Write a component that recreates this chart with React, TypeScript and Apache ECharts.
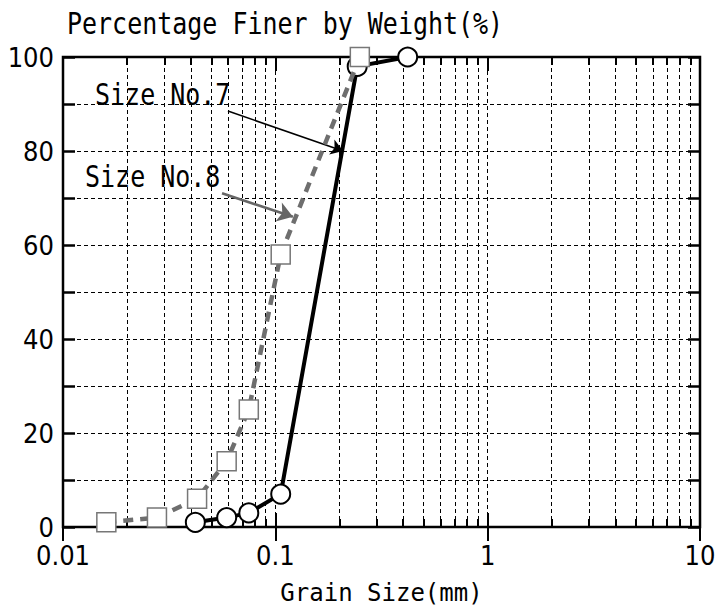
import React, { useEffect, useRef } from "react";
import * as echarts from "echarts";

// ---- data ----
const grainSize7 = [0.042, 0.059, 0.075, 0.106, 0.243, 0.42];
const finer7 = [1, 2, 3, 7, 98, 100];
const grainSize8 = [0.016, 0.0277, 0.0428, 0.059, 0.075, 0.106, 0.25];
const finer8 = [1, 2, 6, 14, 25, 58, 100];

const xTickLabels = ["0.01", "0.1", "1", "10"];
const yTickLabels = [0, 20, 40, 60, 80, 100];
const minorGrid = [
  0.02, 0.03, 0.04, 0.05, 0.06, 0.07, 0.08, 0.09,
  0.2, 0.3, 0.4, 0.5, 0.6, 0.7, 0.8, 0.9,
  2, 3, 4, 5, 6, 7, 8, 9,
];
const majorInner = [0.1, 1];

const arrow7 = [[0.0598, 88.5], [0.2085, 80]];
const arrow8 = [[0.0561, 71], [0.121, 66]];

const seriesNames = ["Size No.7", "Size No.8"];
const titleText = "Percentage Finer by Weight(%)";
const xName = "Grain Size(mm)";

const MONO = "'DejaVu Sans Mono', 'Liberation Mono', monospace";
const NARROW = "'DejaVu Sans Condensed', 'Liberation Sans Narrow', sans-serif";

export default function App() {
  const ref = useRef<HTMLDivElement>(null);
  useEffect(() => {
    if (!ref.current) return;
    const chart = echarts.init(ref.current, undefined, { renderer: "svg" });

    const dash = { type: [4, 3] as any, color: "#000", width: 1 };
    const minorTickLen = 1.7; // % units (~8 px)
    const majorTickLen = 3; // % units (~14 px)

    const tickSegs: any[] = [];
    minorGrid.forEach((v) => {
      tickSegs.push([{ coord: [v, 0] }, { coord: [v, minorTickLen] }]);
      tickSegs.push([{ coord: [v, 100] }, { coord: [v, 100 - minorTickLen] }]);
    });
    majorInner.forEach((v) => {
      tickSegs.push([{ coord: [v, 0] }, { coord: [v, majorTickLen] }]);
      tickSegs.push([{ coord: [v, 100] }, { coord: [v, 100 - majorTickLen] }]);
    });

    const xAxisCommon = {
      type: "log",
      logBase: 10,
      min: 0.01,
      max: 10,
      axisLine: { show: false },
      axisTick: { show: true, inside: true, length: 14, lineStyle: { color: "#000", width: 2 } },
    };
    const yAxisCommon = {
      type: "value",
      min: 0,
      max: 100,
      interval: 10,
      axisLine: { show: false },
      axisTick: { show: true, inside: true, length: 12, lineStyle: { color: "#000", width: 2.5 } },
    };

    chart.setOption({
      animation: false,
      backgroundColor: "#fff",
      grid: {
        left: 63,
        right: 19,
        top: 57,
        bottom: 82,
        show: true,
        borderColor: "#000",
        borderWidth: 2.5,
        backgroundColor: "transparent",
      },
      xAxis: [
        {
          ...xAxisCommon,
          position: "bottom",
          name: xName,
          nameLocation: "middle",
          nameGap: 54,
          nameTextStyle: { fontFamily: MONO, fontSize: 24, color: "#000" },
          axisLabel: {
            show: true,
            margin: 15,
            color: "#000",
            fontFamily: NARROW,
            fontSize: 27,
            formatter: (v: number) => {
              const i = Math.round(Math.log10(v) + 2);
              return xTickLabels[i] ?? "";
            },
          },
          splitLine: { show: true, lineStyle: dash },
        },
        {
          ...xAxisCommon,
          position: "top",
          axisLabel: { show: false },
          splitLine: { show: false },
        },
      ],
      yAxis: [
        {
          ...yAxisCommon,
          position: "left",
          axisLabel: {
            show: true,
            margin: 9,
            color: "#000",
            fontFamily: NARROW,
            fontSize: 27,
            padding: [0, 0, 10, 0],
            formatter: (v: number) => (yTickLabels.indexOf(v) >= 0 ? String(v) : ""),
          },
          splitLine: { show: true, lineStyle: dash },
        },
        {
          ...yAxisCommon,
          position: "right",
          axisLabel: { show: false },
          splitLine: { show: false },
        },
      ],
      graphic: [
        {
          type: "text",
          x: 67,
          y: 24,
          scaleY: 1.17,
          style: {
            text: titleText,
            fontFamily: MONO,
            fontSize: 25,
            fill: "#000",
            verticalAlign: "middle",
            align: "left",
          },
        },
        {
          type: "text",
          x: 95,
          y: 94.5,
          scaleY: 1.18,
          style: {
            text: seriesNames[0],
            fontFamily: MONO,
            fontSize: 25,
            fill: "#000",
            verticalAlign: "middle",
            align: "left",
          },
        },
        {
          type: "text",
          x: 85,
          y: 176.5,
          scaleY: 1.18,
          style: {
            text: seriesNames[1],
            fontFamily: MONO,
            fontSize: 25,
            fill: "#000",
            verticalAlign: "middle",
            align: "left",
          },
        },
      ],
      series: [
        {
          name: "minorGrid",
          type: "line",
          data: [],
          silent: true,
          markLine: {
            silent: true,
            symbol: ["none", "none"],
            label: { show: false },
            lineStyle: { ...dash },
            emphasis: { disabled: true },
            data: minorGrid.map((v) => ({ xAxis: v })),
          },
        },
        {
          name: "ticks",
          type: "line",
          data: [],
          silent: true,
          markLine: {
            silent: true,
            symbol: ["none", "none"],
            label: { show: false },
            lineStyle: { color: "#000", width: 2, type: "solid" },
            emphasis: { disabled: true },
            data: tickSegs,
          },
        },
        {
          name: "arrow7",
          type: "line",
          data: [],
          silent: true,
          markLine: {
            silent: true,
            symbol: ["none", "arrow"],
            symbolSize: 12,
            label: { show: false },
            lineStyle: { color: "#000", width: 1.5, type: "solid" },
            emphasis: { disabled: true },
            data: [[{ coord: arrow7[0] }, { coord: arrow7[1] }]],
          },
        },
        {
          name: "arrow8",
          type: "line",
          data: [],
          silent: true,
          markLine: {
            silent: true,
            symbol: ["none", "arrow"],
            symbolSize: 15,
            label: { show: false },
            lineStyle: { color: "#666", width: 2.5, type: "solid" },
            emphasis: { disabled: true },
            data: [[{ coord: arrow8[0] }, { coord: arrow8[1] }]],
          },
        },
        {
          name: seriesNames[0],
          type: "line",
          z: 10,
          data: grainSize7.map((x, i) => [x, finer7[i]]),
          lineStyle: { color: "#000", width: 4 },
          symbol: "circle",
          symbolSize: 19,
          showAllSymbol: true,
          itemStyle: { color: "#fff", borderColor: "#000", borderWidth: 2 },
        },
        {
          name: seriesNames[1],
          type: "line",
          z: 11,
          data: grainSize8.map((x, i) => [x, finer8[i]]),
          lineStyle: { color: "#6e6e6e", width: 4.5, type: [10, 7] },
          symbol: "rect",
          symbolSize: 19,
          showAllSymbol: true,
          itemStyle: { color: "#fff", borderColor: "#777", borderWidth: 1.5 },
        },
      ],
    });
    return () => chart.dispose();
  }, []);
  return <div ref={ref} style={{ width: 719, height: 610, position: "absolute", left: 0, top: 0 }} />;
}
